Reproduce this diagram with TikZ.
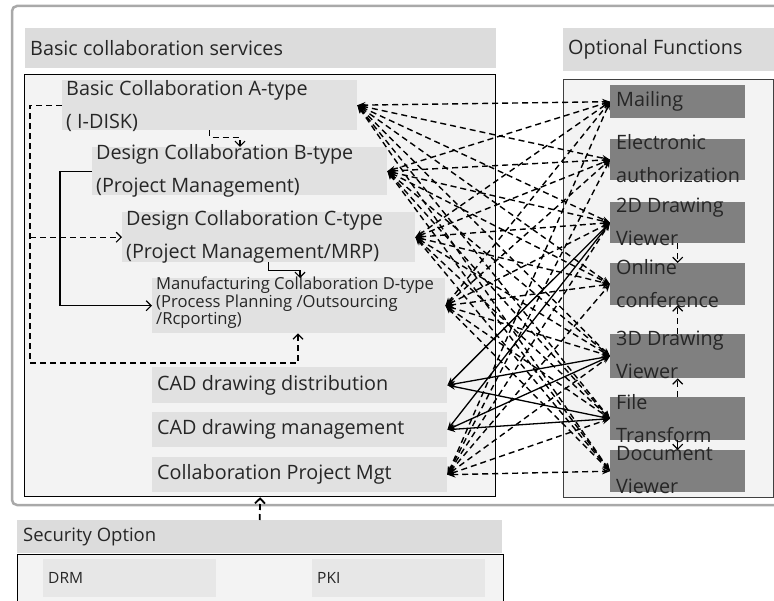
\documentclass[tikz,border=0pt]{standalone}
\usepackage{fontspec}
\setmainfont{Open Sans}
\usetikzlibrary{arrows.meta, calc}
\definecolor{hdrgray}{HTML}{DCDCDC}
\definecolor{svcgray}{HTML}{E1E1E1}
\definecolor{bggray}{HTML}{F3F3F3}
\definecolor{optgray}{HTML}{808080}
\definecolor{framegray}{HTML}{A9A9A9}
\definecolor{txtgray}{HTML}{262626}
\tikzset{
    hdr-box/.style={
        fill=hdrgray, anchor=north west, inner sep=0pt
    },
    svc-box/.style={
        fill=svcgray, anchor=north west, inner sep=0pt
    },
    opt-box/.style={
        fill=optgray, anchor=north west, inner sep=0pt, minimum width=135pt
    },
    box-text/.style={
        anchor=west, align=left, inner sep=0pt, text=txtgray, font=\fontsize{19.8}{33}\selectfont
    },
    link-dash/.style={
        dash pattern=on 6pt off 4pt, line width=1.4pt,
        {Stealth[length=8pt,width=6pt]}-{Stealth[length=8pt,width=6pt]}
    },
    link-solid/.style={
        line width=1.3pt, {Stealth[length=8pt,width=6pt]}-{Stealth[length=8pt,width=6pt]}
    },
    bus-dash/.style={
        dash pattern=on 6pt off 4pt, line width=1.2pt
    },
    barb/.style={
        -{Straight Barb[length=5pt,width=10pt]}
    },
}

\begin{document}
\begin{tikzpicture}[x=1pt, y=-1pt]

        \useasboundingbox (0,0) rectangle (774,601);

        % FRAMES
        \draw[framegray, line width=2.5pt, fill=white, rounded corners=5pt] (12,6) rectangle (800,505);
        \node[hdr-box, minimum width=471pt, minimum height=40pt] (svchdr) at (25,28) {};
        \node[hdr-box, minimum width=215pt, minimum height=43pt] (opthdr) at (563,28) {};
        \node[draw=black, fill=bggray, line width=1.2pt, anchor=north west, inner sep=0pt,
              minimum width=471pt, minimum height=422pt] (basicsvc) at (24,74) {};
        \node[draw=black!75, fill=bggray, line width=1pt, anchor=north west, inner sep=0pt,
              minimum width=210pt, minimum height=418pt] (optfunc) at (563,79) {};
        \node[box-text] (svchdr-t) at ($(svchdr.west) + (5,0)$) {Basic collaboration services};
        \node[box-text] (opthdr-t) at ($(opthdr.west) + (5,0)$) {Optional Functions};

        % BASIC COLLABORATION SERVICES
        \node[svc-box, minimum width=295pt, minimum height=50pt] (atype)   at (62,80)  {};
        \node[svc-box, minimum width=295pt, minimum height=48pt] (btype)   at (92,147) {};
        \node[svc-box, minimum width=293pt, minimum height=50pt] (ctype)   at (122,212) {};
        \node[svc-box, minimum width=293pt, minimum height=55pt] (dtype)   at (152,278) {};
        \node[svc-box, minimum width=295pt, minimum height=36pt] (caddist) at (152,367) {};
        \node[svc-box, minimum width=295pt, minimum height=35pt] (cadmgmt) at (152,412) {};
        \node[svc-box, minimum width=295pt, minimum height=35pt] (projmgt) at (152,457) {};
        \node[box-text] (atype-t)   at ($(atype.west)   + (4,1)$) {Basic Collaboration A-type\\( I-DISK)};
        \node[box-text] (btype-t)   at ($(btype.west)   + (4,0)$) {Design Collaboration B-type\\(Project Management)};
        \node[box-text] (ctype-t)   at ($(ctype.west)   + (4,0)$) {Design Collaboration C-type\\(Project Management/MRP)};
        \node[box-text, font=\fontsize{16.6}{15}\selectfont]
                        (dtype-t)   at ($(dtype.west)   + (4,-3)$) {Manufacturing Collaboration D-type\\(Process Planning /Outsourcing\\/Rcporting)};
        \node[box-text] (caddist-t) at ($(caddist.west) + (5,0)$) {CAD drawing distribution};
        \node[box-text] (cadmgmt-t) at ($(cadmgmt.west) + (5,0)$) {CAD drawing management};
        \node[box-text] (projmgt-t) at ($(projmgt.west) + (5,0)$) {Collaboration Project Mgt};

        % OPTIONAL FUNCTIONS
        \node[opt-box, minimum height=33pt] (mailing) at (610,85)  {};
        \node[opt-box, minimum height=41pt] (eauth)   at (610,139) {};
        \node[opt-box, minimum height=41pt] (view2d)  at (610,202) {};
        \node[opt-box, minimum height=42pt] (online)  at (610,263) {};
        \node[opt-box, minimum height=44pt] (view3d)  at (610,334) {};
        \node[opt-box, minimum height=43pt] (ftrans)  at (610,397) {};
        \node[opt-box, minimum height=42pt] (docview) at (610,450) {};
        \node[box-text] (mailing-t) at ($(mailing.west) + (6,0)$)  {Mailing};
        \node[box-text] (eauth-t)   at ($(eauth.west)   + (6,-1)$) {Electronic\\authorization};
        \node[box-text] (view2d-t)  at ($(view2d.west)  + (6,-1)$) {2D Drawing\\Viewer};
        \node[box-text] (online-t)  at ($(online.west)  + (6,-1)$) {Online\\conference};
        \node[box-text] (view3d-t)  at ($(view3d.west)  + (6,-1)$) {3D Drawing\\Viewer};
        \node[box-text] (ftrans-t)  at ($(ftrans.west)  + (6,0)$)  {File\\Transform};
        \node[box-text] (docview-t) at ($(docview.west) + (6,-1)$) {Document\\Viewer};

        % SECURITY OPTION
        \node[hdr-box, minimum width=485pt, minimum height=33pt] (sechdr) at (17,520) {};
        \node[draw=black, fill=bggray, line width=1.2pt, anchor=north west, inner sep=0pt,
              minimum width=486pt, minimum height=50pt] (secopt) at (17,554) {};
        \node[svc-box, fill=svcgray!80, minimum width=173pt, minimum height=38pt] (drm) at (43,559) {};
        \node[svc-box, fill=svcgray!80, minimum width=173pt, minimum height=38pt] (pki) at (312,559) {};
        \node[box-text, font=\fontsize{18.5}{20}\selectfont] (sechdr-t) at ($(sechdr.west) + (6,0)$) {Security Option};
        \node[box-text, font=\fontsize{15.5}{18}\selectfont] (drm-t) at ($(drm.west) + (5,0)$) {DRM};
        \node[box-text, font=\fontsize{15.5}{18}\selectfont] (pki-t) at ($(pki.west) + (5,0)$) {PKI};

        % LEFT CONNECTOR POINTS
        \coordinate[] (lbus-top) at ($(atype.west) + (-32,0)$);
        \coordinate[] (lbus-bot) at (30,363);
        \coordinate[] (dtype-in) at ($(dtype.south west) + (146,0)$);
        \coordinate[] (bbus-top) at ($(btype.west) + (-32,0)$);
        \coordinate[] (btype-in) at ($(btype.north west) + (148,0)$);
        \coordinate[] (dtype-top) at ($(dtype.north west) + (148,0)$);

        % LEFT CONNECTIONS
        \draw[bus-dash] (atype.west) -- (lbus-top) -- (lbus-bot);
        \draw[bus-dash, barb] (lbus-bot) -| (dtype-in);
        \draw[bus-dash, barb] (lbus-top |- ctype.west) -- (ctype.west);
        \draw[line width=1.2pt, barb] (btype.west) -- (bbus-top) |- (dtype.west);
        \draw[bus-dash, barb] (atype.south) -- ++(0,7) -| (btype-in);
        \draw[line width=1.2pt, barb] (ctype.south) -- ++(0,8) -| (dtype-top);
        \draw[bus-dash, line width=1.8pt, barb] (sechdr.north) -- (basicsvc.south);

        % RIGHT CONNECTIONS
        \draw[bus-dash, barb] (view2d.south) -- (online.north);
        \draw[bus-dash, barb] (view3d.north) -- (online.south);
        \draw[bus-dash, barb] (ftrans.north) -- (view3d.south);
        \draw[line width=1.2pt, barb] (ftrans.south) -- (docview.north);

        % SERVICE - FUNCTION LINKS
        \foreach \s in {atype, btype, ctype, dtype, projmgt}
            \foreach \t in {mailing, eauth, view2d, online, view3d, ftrans, docview}
                \draw[link-dash] (\s.east) -- (\t.west);
        \foreach \s in {caddist, cadmgmt}
            \foreach \t in {view2d, view3d, ftrans}
                \draw[link-solid] (\s.east) -- (\t.west);

\end{tikzpicture}
\end{document}
